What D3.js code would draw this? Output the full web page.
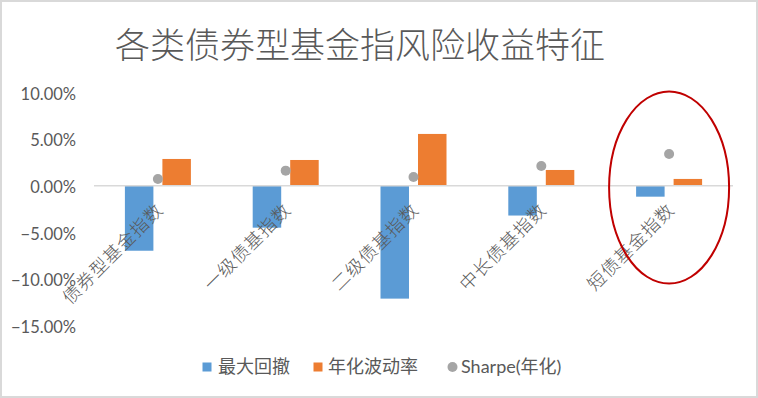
<!DOCTYPE html>
<html>
<head>
<meta charset="utf-8">
<script src="https://cdn.jsdelivr.net/npm/d3@7"></script>
<style>
  html, body { margin: 0; padding: 0; background: #fff; }
  svg { display: block; }
</style>
</head>
<body>
<svg id="chart" width="758" height="398"></svg>
<script>
// ---- data ----
const categories = ["债券型基金指数", "一级债基指数", "二级债基指数", "中长债基指数", "短债基金指数"];
const maxDrawdown = [-6.97, -4.50, -12.10, -3.20, -1.18];   // 最大回撤 (%)
const annualVol   = [2.86, 2.75, 5.54, 1.68, 0.72];         // 年化波动率 (%)
const sharpe      = [0.72, 1.61, 0.93, 2.11, 3.40];         // Sharpe(年化)
const yTicks      = [10, 5, 0, -5, -10, -15];
const seriesNames = ["最大回撤", "年化波动率", "Sharpe(年化)"];
const titleText   = "各类债券型基金指风险收益特征";

// ---- layout ----
const W = 758, H = 398;
const svg = d3.select("#chart");
const textColor = "#595959";
const colors = ["#5B9BD5", "#ED7D31", "#A5A5A5"];

// border
svg.append("rect").attr("x", 1).attr("y", 1).attr("width", W - 2).attr("height", H - 2)
  .attr("fill", "#fff").attr("stroke", "#D9D9D9").attr("stroke-width", 2);

// title
svg.append("text").attr("x", 360).attr("y", 42)
  .attr("text-anchor", "middle").attr("dominant-baseline", "central")
  .attr("font-family", "'Noto Sans CJK SC', sans-serif").attr("font-size", 35)
  .attr("font-weight", 300)
  .attr("fill", textColor).text(titleText);

const x = d3.scaleBand().domain(categories).range([94, 733]).padding(0);
const y = d3.scaleLinear().domain([-15, 10]).range([325.7, 92.3]);
const inner = d3.scaleBand().domain(["dd", "vol"]).range([-33, 33]).paddingInner(0.24);

// y axis labels
const yAxis = d3.axisLeft(y).tickValues(yTicks).tickSize(0).tickPadding(0)
  .tickFormat(d => d3.format(".2f")(d) + "%");
const gy = svg.append("g").attr("transform", "translate(76,0)").call(yAxis);
gy.select(".domain").remove();
gy.selectAll("text").attr("font-family", "Lato, sans-serif").attr("font-size", 16.5)
  .attr("fill", textColor).attr("dy", "0.36em").attr("y", 1);

// bars
const cx = d => x(d) + x.bandwidth() / 2;
svg.append("g").selectAll("rect").data(categories).join("rect")
  .attr("x", d => cx(d) + inner("dd"))
  .attr("width", inner.bandwidth())
  .attr("y", (d, i) => Math.min(y(0), y(maxDrawdown[i])))
  .attr("height", (d, i) => Math.abs(y(maxDrawdown[i]) - y(0)))
  .attr("fill", colors[0]);
svg.append("g").selectAll("rect").data(categories).join("rect")
  .attr("x", d => cx(d) + inner("vol"))
  .attr("width", inner.bandwidth())
  .attr("y", (d, i) => Math.min(y(0), y(annualVol[i])))
  .attr("height", (d, i) => Math.abs(y(annualVol[i]) - y(0)))
  .attr("fill", colors[1]);

// zero line
svg.append("line").attr("x1", x.range()[0]).attr("x2", x.range()[1])
  .attr("y1", y(0)).attr("y2", y(0))
  .attr("stroke", "#D9D9D9").attr("stroke-width", 1.5);

// sharpe dots
svg.append("g").selectAll("circle").data(categories).join("circle")
  .attr("cx", d => cx(d)).attr("cy", (d, i) => y(sharpe[i])).attr("r", 5)
  .attr("fill", colors[2]);

// category labels (rotated)
svg.append("g").selectAll("text").data(categories).join("text")
  .attr("transform", d => `translate(${cx(d) + 2},${y(0) + 21}) rotate(-45)`)
  .attr("text-anchor", "end").attr("dy", "0.35em")
  .attr("font-family", "'Noto Sans CJK SC', sans-serif").attr("font-size", 18)
  .attr("font-weight", 300).attr("letter-spacing", 1)
  .attr("fill", textColor).text(d => d);

// highlight ellipse around last category
const last = categories[categories.length - 1];
svg.append("ellipse").attr("cx", cx(last)).attr("cy", 187.5).attr("rx", 60).attr("ry", 96)
  .attr("fill", "none").attr("stroke", "#C00000").attr("stroke-width", 2);

// legend
const lg = svg.append("g").attr("font-family", "Lato, 'Noto Sans CJK SC', sans-serif")
  .attr("font-size", 18).attr("fill", textColor);
lg.append("rect").attr("x", 202.5).attr("y", 362.5).attr("width", 9).attr("height", 9).attr("fill", colors[0]);
lg.append("text").attr("x", 218).attr("y", 367).attr("dy", "0.35em").text(seriesNames[0]);
lg.append("rect").attr("x", 313.5).attr("y", 362.5).attr("width", 9).attr("height", 9).attr("fill", colors[1]);
lg.append("text").attr("x", 328).attr("y", 367).attr("dy", "0.35em").text(seriesNames[1]);
lg.append("circle").attr("cx", 452.5).attr("cy", 367).attr("r", 5).attr("fill", colors[2]);
lg.append("text").attr("x", 461).attr("y", 367).attr("dy", "0.35em").text(seriesNames[2]);
</script>
</body>
</html>
